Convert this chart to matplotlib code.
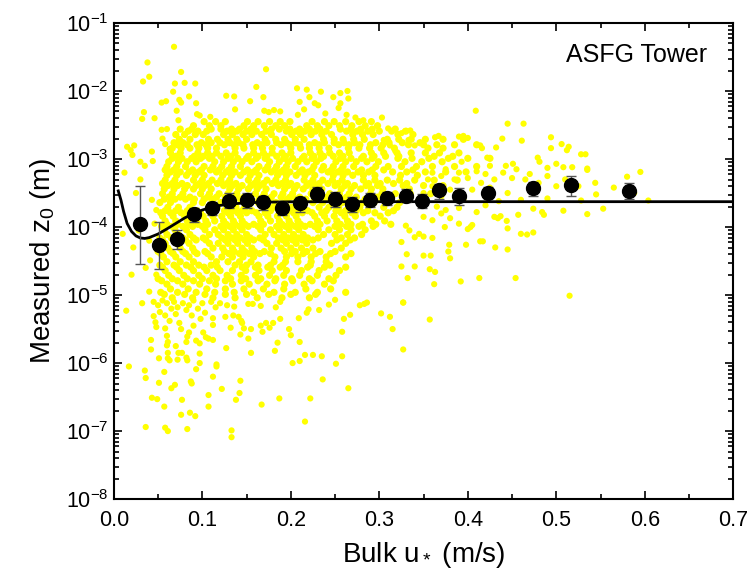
import matplotlib
matplotlib.use("Agg")
import matplotlib.pyplot as plt
import numpy as np
from matplotlib.ticker import LogLocator, MultipleLocator, LogFormatterMathtext, NullFormatter

plt.rcParams["font.family"] = ["Liberation Sans", "DejaVu Sans"]
plt.rcParams["mathtext.fontset"] = "custom"
plt.rcParams["mathtext.rm"] = "Liberation Sans"
plt.rcParams["mathtext.it"] = "Liberation Sans:italic"

# bin-averaged z0 with error bars
bin_u = [0.029, 0.051, 0.071, 0.091, 0.111, 0.130, 0.150, 0.169, 0.190, 0.210, 0.230, 0.250,
         0.269, 0.290, 0.309, 0.330, 0.348, 0.368, 0.390, 0.423, 0.474, 0.517, 0.582]
bin_z0 = [1.1e-4, 5.5e-5, 6.6e-5, 1.54e-4, 1.88e-4, 2.4e-4, 2.52e-4, 2.36e-4, 1.92e-4, 2.23e-4,
          3.1e-4, 2.58e-4, 2.18e-4, 2.5e-4, 2.65e-4, 2.9e-4, 2.4e-4, 3.46e-4, 2.9e-4, 3.2e-4,
          3.7e-4, 4.1e-4, 3.4e-4]
bin_lo = [2.9e-5, 2.4e-5, 4.7e-5, 1.2e-4, 1.5e-4, 1.9e-4, 1.9e-4, 1.8e-4, 1.5e-4, 1.67e-4,
          2.5e-4, 2.0e-4, 1.67e-4, 2.0e-4, 2.1e-4, 2.3e-4, 1.9e-4, 2.6e-4, 2.1e-4, 2.7e-4,
          2.9e-4, 2.9e-4, 2.6e-4]
bin_hi = [4.0e-4, 1.2e-4, 8.9e-5, 1.9e-4, 2.35e-4, 3.2e-4, 3.2e-4, 2.9e-4, 2.35e-4, 2.8e-4,
          3.9e-4, 3.3e-4, 2.8e-4, 3.2e-4, 3.3e-4, 3.6e-4, 3.1e-4, 4.3e-4, 3.8e-4, 3.9e-4,
          4.6e-4, 5.6e-4, 4.4e-4]

# fitted curve
fit_u = [0.005, 0.008, 0.011, 0.015, 0.02, 0.025, 0.03, 0.035, 0.04, 0.05, 0.06, 0.07, 0.08,
         0.09, 0.10, 0.11, 0.12, 0.13, 0.15, 0.17, 0.2, 0.25, 0.3, 0.4, 0.5, 0.6, 0.7]
fit_z0 = [3.4e-4, 2.5e-4, 1.7e-4, 1.13e-4, 8.6e-5, 7.4e-5, 6.9e-5, 6.8e-5, 7.0e-5, 7.9e-5,
          9.4e-5, 1.13e-4, 1.36e-4, 1.58e-4, 1.78e-4, 1.95e-4, 2.08e-4, 2.17e-4, 2.27e-4,
          2.32e-4, 2.35e-4, 2.36e-4, 2.36e-4, 2.36e-4, 2.36e-4, 2.36e-4, 2.36e-4]

top_u = [0.068, 0.038, 0.033, 0.040, 0.076, 0.172, 0.161, 0.069, 0.080, 0.092, 0.067, 0.207,
         0.218, 0.234, 0.256, 0.264, 0.054, 0.059, 0.074, 0.076, 0.085, 0.093, 0.127, 0.136,
         0.154, 0.169, 0.210, 0.221, 0.227, 0.248, 0.256, 0.265, 0.034, 0.032, 0.046, 0.071,
         0.073, 0.094, 0.097, 0.109, 0.137, 0.170, 0.175, 0.181, 0.188, 0.208, 0.215, 0.231,
         0.239, 0.254, 0.263, 0.273, 0.282, 0.303, 0.409, 0.445, 0.463]
top_lz = [-1.35, -1.58, -1.86, -1.79, -1.72, -1.68, -1.94, -1.89, -1.88, -1.89, -2.01, -1.96,
          -1.98, -2.01, -2.03, -2.00, -2.17, -2.15, -2.13, -2.17, -2.08, -2.18, -2.07, -2.08,
          -2.15, -2.09, -2.16, -2.09, -2.18, -2.09, -2.18, -2.11, -2.31, -2.41, -2.40, -2.29,
          -2.43, -2.34, -2.36, -2.38, -2.27, -2.29, -2.31, -2.28, -2.30, -2.35, -2.27, -2.21,
          -2.33, -2.25, -2.35, -2.39, -2.43, -2.39, -2.29, -2.48, -2.48]

side_u = [0.015, 0.019, 0.021, 0.023, 0.030, 0.043, 0.044, 0.054, 0.060, 0.055, 0.058, 0.063,
          0.310, 0.325, 0.335, 0.333, 0.340, 0.305, 0.312, 0.318, 0.322, 0.390, 0.395, 0.400,
          0.363, 0.367, 0.329, 0.439, 0.461, 0.494, 0.506, 0.512, 0.514, 0.494, 0.528, 0.533,
          0.414, 0.416, 0.432, 0.422, 0.479, 0.481, 0.490, 0.500, 0.508, 0.518, 0.535, 0.595,
          0.451, 0.443, 0.425, 0.393]
side_lz = [-2.82, -2.87, -2.94, -2.80, -3.04, -2.89, -3.03, -2.57, -2.56, -2.70, -2.78, -2.85,
           -2.55, -2.62, -2.58, -2.72, -2.80, -2.72, -2.80, -2.88, -2.98, -2.67, -2.66, -2.69,
           -2.68, -2.66, -2.59, -2.70, -2.73, -2.68, -2.78, -2.87, -2.82, -2.84, -2.93, -2.93,
           -2.80, -2.84, -2.83, -2.98, -2.98, -3.04, -3.13, -3.07, -3.12, -3.12, -3.14, -3.19,
           -3.07, -3.10, -3.10, -3.04]

right_u = [0.535, 0.544, 0.545, 0.565, 0.580, 0.588, 0.604, 0.553, 0.535, 0.528, 0.525, 0.508,
           0.486, 0.484, 0.460, 0.467, 0.474, 0.445, 0.431, 0.445, 0.417, 0.398, 0.379, 0.378,
           0.380, 0.413, 0.454, 0.392, 0.357, 0.363, 0.362, 0.340, 0.332, 0.325, 0.327, 0.515,
           0.350, 0.358, 0.331, 0.403, 0.405, 0.414, 0.430, 0.434, 0.437, 0.444, 0.457, 0.474,
           0.374, 0.380, 0.390, 0.400, 0.340, 0.350, 0.360, 0.345, 0.330, 0.334, 0.325,
           0.360, 0.370, 0.375, 0.385, 0.390, 0.400, 0.410, 0.415, 0.420, 0.430, 0.440, 0.450,
           0.455, 0.465, 0.470, 0.480, 0.490, 0.500, 0.510, 0.360, 0.370, 0.380, 0.395, 0.405,
           0.420, 0.425, 0.435, 0.445, 0.460, 0.470, 0.490, 0.365, 0.375, 0.390, 0.410, 0.420,
           0.350, 0.360, 0.370, 0.355, 0.350, 0.345]
right_lz = [-3.16, -3.35, -3.52, -3.42, -3.26, -3.50, -3.61, -3.73, -3.81, -3.61, -3.40, -3.76,
            -3.82, -3.78, -4.10, -4.11, -4.08, -4.02, -4.30, -4.33, -4.21, -4.26, -4.26, -4.36,
            -4.46, -4.75, -4.75, -4.80, -4.62, -4.66, -4.84, -4.58, -4.75, -4.58, -5.11, -5.01,
            -4.42, -4.42, -4.40, -4.00, -3.97, -4.21, -3.85, -3.87, -3.84, -3.91, -3.82, -3.73,
            -4.00, -3.87, -3.95, -4.03, -4.15, -4.14, -4.16, -4.10, -3.98, -4.05, -4.22,
            -3.20, -3.25, -3.15, -3.30, -3.20, -3.28, -3.18, -3.35, -3.22, -3.30, -3.20, -3.28,
            -3.15, -3.30, -3.22, -3.35, -3.25, -3.40, -3.30, -3.40, -3.55, -3.45, -3.60, -3.45,
            -3.55, -3.42, -3.62, -3.50, -3.60, -3.45, -3.58, -3.70, -3.75, -3.72, -3.78, -3.68,
            -3.85, -3.90, -3.80, -3.30, -3.50, -3.65]

left_u = [0.022, 0.043, 0.048, 0.046, 0.040, 0.041, 0.048, 0.040, 0.032, 0.012, 0.025, 0.030,
          0.035, 0.020, 0.028, 0.036, 0.010]
left_lz = [-4.30, -3.60, -3.75, -3.95, -4.20, -4.49, -4.70, -4.95, -5.12, -3.20, -3.50, -3.30,
           -3.10, -4.70, -4.05, -4.60, -4.10]

low_u = [0.014, 0.017, 0.036, 0.035, 0.036, 0.042, 0.042, 0.043, 0.049, 0.051, 0.051, 0.045,
         0.047, 0.048, 0.057, 0.058, 0.061, 0.057, 0.065, 0.069, 0.077, 0.076, 0.083, 0.086,
         0.092, 0.087, 0.088, 0.093, 0.097, 0.097, 0.063, 0.072, 0.060, 0.061, 0.061, 0.070,
         0.077, 0.073, 0.082, 0.083, 0.058, 0.060, 0.061, 0.074, 0.076, 0.083, 0.085, 0.090,
         0.082, 0.093, 0.101, 0.104, 0.107, 0.112, 0.097, 0.103, 0.112, 0.112, 0.116, 0.116,
         0.112, 0.107, 0.107, 0.122, 0.127, 0.126, 0.128, 0.135, 0.132, 0.136, 0.143, 0.142,
         0.138, 0.133, 0.133, 0.141, 0.144, 0.145, 0.143, 0.147, 0.152, 0.157, 0.152, 0.155,
         0.155, 0.166, 0.166, 0.168, 0.172, 0.176, 0.180, 0.167, 0.183, 0.188, 0.188, 0.182,
         0.185, 0.187, 0.198, 0.200, 0.202, 0.209, 0.210, 0.210, 0.216, 0.225, 0.218, 0.220,
         0.222, 0.232, 0.235, 0.236, 0.216, 0.243, 0.250, 0.251, 0.258, 0.258, 0.260, 0.267,
         0.265, 0.278, 0.283, 0.286, 0.302, 0.312, 0.315, 0.327, 0.327, 0.357,
         0.045, 0.050, 0.055, 0.060, 0.065, 0.068, 0.072, 0.078, 0.082, 0.085, 0.090, 0.095,
         0.100, 0.052, 0.058, 0.070, 0.088, 0.098, 0.063, 0.110, 0.115, 0.120]
low_lz = [-5.23, -6.05, -6.94, -6.11, -6.22, -5.66, -5.80, -6.51, -6.53, -6.29, -5.93, -5.31,
          -5.40, -5.47, -6.64, -6.95, -7.00, -6.13, -6.37, -6.32, -6.54, -6.76, -6.97, -6.73,
          -6.78, -6.27, -6.30, -6.09, -6.00, -5.86, -5.96, -5.95, -5.74, -5.85, -5.93, -5.75,
          -5.85, -5.85, -5.92, -5.96, -5.49, -5.60, -5.69, -5.41, -5.50, -5.61, -5.55, -5.45,
          -5.69, -5.67, -5.55, -5.62, -5.64, -5.66, -5.71, -5.26, -5.34, -5.44, -6.02, -6.05,
          -6.20, -6.47, -6.64, -6.38, -5.78, -5.32, -5.15, -5.30, -5.48, -5.17, -6.26, -6.44,
          -6.54, -6.99, -7.09, -5.32, -5.38, -5.41, -5.58, -5.49, -5.13, -5.13, -5.64, -5.50,
          -5.85, -5.16, -5.45, -5.54, -5.41, -5.48, -5.41, -6.61, -5.18, -5.10, -5.35, -5.82,
          -5.70, -6.52, -5.50, -5.59, -6.00, -5.34, -5.69, -5.97, -5.88, -5.88, -5.26, -5.21,
          -6.52, -5.22, -5.90, -6.24, -6.86, -5.14, -5.07, -6.01, -5.90, -5.54, -5.35, -5.29,
          -6.37, -5.15, -5.13, -5.11, -5.27, -5.32, -5.50, -5.80, -5.11, -5.36,
          -5.10, -5.15, -5.08, -5.12, -5.20, -5.10, -5.18, -5.12, -5.22, -5.15, -5.08, -5.20,
          -5.12, -5.25, -5.30, -5.28, -5.30, -5.35, -5.38, -5.10, -5.18, -5.12]

# dense core: u* positions (in 1/1000 m/s) along each log10 z0 row
core_lz = [-2.45, -2.56, -2.64, -2.76, -2.84, -2.96, -3.04, -3.16, -3.24, -3.36, -3.44, -3.56,
           -3.64, -3.76, -3.84, -3.96, -4.04, -4.16, -4.24, -4.36, -4.44, -4.56, -4.64, -4.76,
           -4.84, -4.96, -5.04]
core_u = [
    [102, 115, 126, 151, 163, 176, 188, 199, 224, 238, 249, 262, 277, 291],
    [75, 88, 110, 121, 133, 142, 155, 178, 187, 199, 210, 221, 233, 256, 268, 279, 292, 318],
    [70, 80, 92, 101, 124, 134, 146, 156, 167, 178, 201, 211, 223, 235, 246, 270, 281, 293, 321, 338],
    [68, 78, 99, 110, 120, 131, 141, 162, 173, 184, 195, 205, 227, 238, 249, 260, 272, 296, 311, 326, 346],
    [66, 76, 86, 96, 106, 116, 137, 147, 158, 168, 179, 200, 211, 221, 232, 243, 265, 277, 289, 302, 317, 355, 372],
    [70, 91, 101, 111, 121, 132, 152, 163, 173, 184, 194, 215, 226, 237, 248, 259, 282, 294, 307, 322, 362, 383],
    [62, 73, 83, 93, 114, 124, 135, 145, 156, 176, 187, 197, 208, 218, 229, 251, 262, 274, 286, 299, 329, 348, 371],
    [58, 68, 89, 99, 109, 119, 130, 151, 161, 171, 182, 192, 213, 224, 235, 246, 257, 280, 292, 305, 338],
    [60, 71, 82, 92, 102, 123, 133, 143, 154, 164, 185, 195, 206, 216, 227, 248, 259, 270, 282, 295, 324, 343],
    [55, 66, 77, 97, 107, 117, 128, 138, 159, 169, 179, 190, 200, 221, 232, 242, 253, 264, 288, 301, 316, 331],
    [57, 68, 80, 90, 100, 110, 131, 141, 152, 162, 172, 193, 204, 214, 225, 235, 257, 268, 279, 291, 304, 334],
    [62, 75, 86, 106, 116, 126, 137, 147, 168, 178, 189, 199, 210, 231, 241, 252, 263, 274, 298, 311, 326],
    [52, 64, 90, 100, 111, 121, 132, 152, 163, 173, 183, 194, 215, 225, 236, 247, 258, 281, 294, 308, 323],
    [58, 70, 83, 94, 114, 125, 135, 145, 156, 177, 187, 198, 208, 219, 240, 251, 262, 274, 287, 316],
    [55, 67, 80, 101, 112, 122, 132, 143, 164, 174, 185, 195, 206, 227, 238, 249, 261, 273, 301],
    [60, 72, 85, 95, 106, 127, 137, 148, 158, 169, 190, 200, 211, 222, 233, 256, 268, 281, 296, 313],
    [57, 69, 82, 103, 114, 124, 135, 145, 166, 177, 187, 198, 209, 231, 243, 255, 268, 284],
    [52, 65, 78, 90, 101, 122, 133, 143, 154, 165, 186, 197, 208, 219, 231, 257, 272],
    [58, 72, 85, 108, 118, 129, 140, 151, 173, 184, 195, 206, 218, 246, 262],
    [50, 64, 78, 91, 103, 125, 136, 148, 159, 170, 193, 205, 218, 233, 250],
    [56, 70, 85, 110, 122, 134, 146, 158, 182, 195, 208, 223, 240, 262],
    [52, 68, 82, 96, 110, 137, 150, 163, 177, 191, 222, 244],
    [58, 74, 90, 105, 120, 134, 149, 164, 179, 195, 212, 232, 255],
    [50, 66, 83, 100, 116, 132, 149, 166, 183, 201, 221, 243],
    [60, 78, 97, 115, 134, 153, 173, 193, 215, 238],
    [53, 72, 93, 114, 136, 158, 181, 205, 230, 262],
    [66, 89, 112, 137, 162, 190, 221],
]

# rows in between the core rows
mid_lz = [-2.51, -2.59, -2.71, -2.79, -2.91, -2.99, -3.11, -3.19, -3.31, -3.39, -3.51, -3.59,
          -3.71, -3.79, -3.91, -3.99, -4.11, -4.19, -4.31, -4.39, -4.51, -4.59, -4.71, -4.79,
          -4.91, -4.99]
mid_u = [
    [90, 108, 121, 147, 158, 170, 183, 193, 218, 230, 243, 255, 269, 284, 298],
    [84, 95, 105, 128, 139, 150, 161, 172, 195, 206, 216, 228, 240, 263, 275, 287, 300, 314, 330],
    [74, 86, 107, 117, 129, 139, 150, 171, 183, 193, 205, 215, 237, 249, 259, 271, 283, 309, 322, 336, 352, 372, 395],
    [72, 83, 94, 104, 125, 136, 146, 157, 167, 189, 199, 210, 221, 232, 254, 266, 278, 290, 304, 333, 350, 365, 385, 410],
    [64, 75, 95, 106, 116, 127, 137, 158, 169, 179, 190, 200, 222, 233, 244, 255, 266, 291, 305, 320, 336, 352, 368, 390],
    [66, 77, 88, 98, 108, 129, 140, 150, 161, 171, 192, 202, 213, 224, 234, 256, 268, 280, 292, 321, 337, 356, 378, 400, 425],
    [60, 71, 81, 102, 112, 122, 133, 143, 164, 174, 184, 195, 205, 226, 237, 248, 259, 271, 296, 310, 325, 342, 360, 385, 410],
    [64, 75, 85, 96, 116, 127, 137, 147, 158, 178, 189, 199, 210, 220, 242, 253, 264, 276, 288, 315, 331, 352, 375, 398],
    [58, 69, 90, 100, 111, 121, 131, 152, 162, 173, 183, 194, 215, 225, 236, 247, 258, 282, 295, 309, 323, 340, 362, 388],
    [61, 72, 83, 93, 103, 124, 134, 145, 155, 165, 186, 197, 207, 218, 228, 250, 261, 272, 285, 298, 327, 350, 372],
    [55, 66, 78, 98, 108, 119, 129, 139, 160, 170, 181, 191, 202, 223, 233, 244, 255, 266, 290, 303, 318, 335, 358],
    [57, 69, 81, 91, 102, 112, 133, 143, 154, 164, 175, 196, 206, 217, 227, 238, 260, 272, 284, 297, 312, 328, 350],
    [61, 73, 86, 107, 117, 128, 138, 148, 169, 180, 190, 201, 211, 232, 243, 254, 266, 278, 305, 320],
    [53, 64, 76, 88, 98, 109, 129, 140, 150, 161, 171, 192, 203, 213, 224, 235, 257, 269, 282, 295, 310],
    [58, 70, 83, 104, 114, 124, 135, 145, 166, 177, 187, 198, 208, 230, 241, 252, 264, 291, 306],
    [54, 66, 78, 89, 100, 121, 131, 142, 152, 163, 184, 194, 205, 216, 227, 250, 263, 277, 293],
    [60, 73, 86, 108, 118, 129, 139, 150, 171, 181, 192, 203, 214, 237, 250, 264, 280],
    [55, 68, 81, 93, 104, 126, 137, 148, 158, 169, 191, 202, 213, 225, 252, 267],
    [61, 75, 89, 112, 123, 134, 145, 156, 178, 189, 200, 212, 225, 257],
    [53, 67, 81, 94, 106, 130, 142, 153, 165, 177, 201, 214, 228, 245, 268],
    [60, 75, 90, 116, 129, 142, 155, 181, 194, 208, 223, 240],
    [55, 71, 87, 102, 117, 145, 160, 174, 188, 219, 238, 262],
    [62, 79, 96, 112, 128, 144, 160, 176, 192, 210, 230, 251],
    [54, 72, 90, 108, 126, 144, 163, 182, 202, 224, 248],
    [64, 84, 105, 126, 147, 169, 192, 217, 245],
    [57, 80, 103, 126, 150, 175, 200, 228],
]


def sparse_points():
    us = top_u + side_u + right_u + left_u + low_u
    lzs = top_lz + side_lz + right_lz + left_lz + low_lz
    return np.array(us), np.power(10.0, np.array(lzs))


def core_points():
    us, lzs = [], []
    for lz, row in list(zip(core_lz, core_u)) + list(zip(mid_lz, mid_u)):
        us = us + [v / 1000 for v in row]
        lzs = lzs + [lz] * len(row)
    return np.array(us), np.power(10.0, np.array(lzs))


def main() -> None:
    fig = plt.figure(figsize=(7.49, 5.75), dpi=100)
    ax = fig.add_axes([0.152, 0.132, 0.827, 0.828])

    su, sz = sparse_points()
    ku, kz = core_points()
    ax.scatter(ku, kz, s=27, color="#ffff00", edgecolors="none", zorder=1)
    ax.scatter(su, sz, s=20, color="#ffff00", edgecolors="none", zorder=1)

    ax.plot(fit_u, fit_z0, color="black", lw=2.0, zorder=3)

    z = np.array(bin_z0)
    yerr = [z - np.array(bin_lo), np.array(bin_hi) - z]
    ax.errorbar(bin_u, bin_z0, yerr=yerr, fmt="o", ms=10, color="black",
                ecolor="#555555", elinewidth=1.0, capsize=3.5, capthick=1.0, zorder=4)

    ax.set_yscale("log")
    ax.set_xlim(0, 0.7)
    ax.set_ylim(1e-8, 1e-1)

    ax.xaxis.set_major_locator(MultipleLocator(0.1))
    ax.xaxis.set_minor_locator(MultipleLocator(0.05))
    ax.xaxis.set_major_formatter(plt.FuncFormatter(lambda v, p: f"{v:.1f}"))
    ax.yaxis.set_major_locator(LogLocator(base=10, numticks=12))
    ax.yaxis.set_minor_locator(LogLocator(base=10, subs=np.arange(2, 10), numticks=12))
    ax.yaxis.set_major_formatter(LogFormatterMathtext())
    ax.yaxis.set_minor_formatter(NullFormatter())

    ax.tick_params(which="both", direction="in", top=True, right=True, width=1.2)
    ax.tick_params(which="major", length=6, labelsize=15.5)
    ax.tick_params(which="minor", length=3.5)
    ax.tick_params(axis="x", pad=8)
    for sp in ax.spines.values():
        sp.set_linewidth(1.5)

    ax.set_xlabel(r"Bulk u$_*$ (m/s)", fontsize=20, labelpad=6)
    ax.set_ylabel(r"Measured z$_0$ (m)", fontsize=20, labelpad=6)
    ax.text(0.958, 0.933, "ASFG Tower", transform=ax.transAxes, ha="right", va="center",
            fontsize=18)

    plt.savefig("out.png", dpi=100)


if __name__ == "__main__":
    main()
